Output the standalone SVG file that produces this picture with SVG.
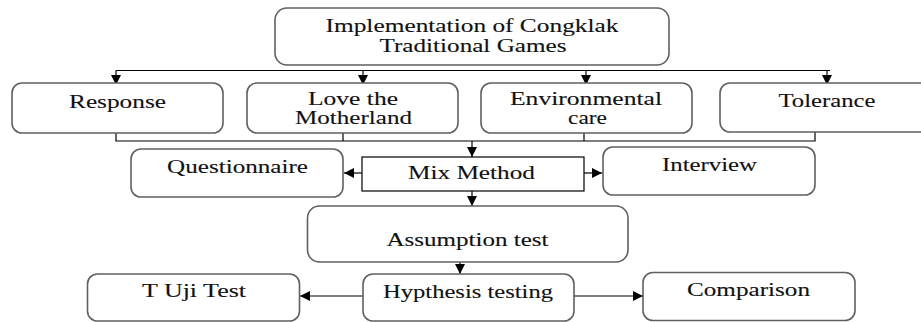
<svg xmlns="http://www.w3.org/2000/svg" width="921" height="322" viewBox="0 0 921 322">
<style>
.box{fill:#fff;stroke:#606060;stroke-width:1.6}
.sq{fill:#fff;stroke:#000;stroke-width:1.2}
.t{font-family:'Liberation Serif','Times New Roman','DejaVu Serif',serif;font-size:18px;fill:#111;stroke:#111;stroke-width:0.1;text-anchor:middle}
.c{fill:none;stroke:#000;stroke-width:1.2}
.a{fill:none;stroke:#000;stroke-width:1.2;marker-end:url(#ah)}
</style>
<defs>
<marker id="ah" viewBox="0 0 10 10" refX="10" refY="5" markerWidth="10" markerHeight="11" markerUnits="userSpaceOnUse" orient="auto">
<path d="M0,0 L10,5 L0,10 z" fill="#000"/>
</marker>
</defs>
<g id="connectors">
<path class="c" d="M116,70.5 H830"/>
<path class="a" d="M116,70.5 V85"/>
<path class="a" d="M363,70.5 V85"/>
<path class="a" d="M586,70.5 V85"/>
<path class="a" d="M827,70.5 V85"/>
<path class="c" d="M116,133 V141 H815 V132"/>
<path class="c" d="M343,133 V141"/>
<path class="c" d="M584,133 V141"/>
<path class="a" d="M472,141 V157"/>
<path class="a" d="M362,173 H344"/>
<path class="a" d="M584,173 H602"/>
<path class="a" d="M472,191 V206"/>
<path class="a" d="M460,262 V274"/>
<path class="a" d="M363,296 H300"/>
<path class="a" d="M574,296 H643"/>
</g>
<g id="n-implementation">
<rect class="box" x="275" y="8" width="394" height="57" rx="12"/>
<text class="t" x="472" y="32" textLength="293" lengthAdjust="spacingAndGlyphs">Implementation of Congklak</text>
<text class="t" x="473" y="52" textLength="187" lengthAdjust="spacingAndGlyphs">Traditional Games</text>
</g>
<g id="n-response">
<rect class="box" x="12" y="83" width="211" height="50" rx="10"/>
<text class="t" x="117.5" y="108" textLength="97" lengthAdjust="spacingAndGlyphs">Response</text>
</g>
<g id="n-love">
<rect class="box" x="247" y="83" width="211" height="50" rx="10"/>
<text class="t" x="353" y="105" textLength="90" lengthAdjust="spacingAndGlyphs">Love the</text>
<text class="t" x="353.5" y="124" textLength="117" lengthAdjust="spacingAndGlyphs">Motherland</text>
</g>
<g id="n-environmental">
<rect class="box" x="481" y="83" width="211" height="50" rx="10"/>
<text class="t" x="586" y="105" textLength="152" lengthAdjust="spacingAndGlyphs">Environmental</text>
<text class="t" x="587.5" y="124" textLength="39" lengthAdjust="spacingAndGlyphs">care</text>
</g>
<g id="n-tolerance">
<rect class="box" x="720" y="83" width="211" height="49" rx="10"/>
<text class="t" x="827" y="107" textLength="97" lengthAdjust="spacingAndGlyphs">Tolerance</text>
</g>
<g id="n-questionnaire">
<rect class="box" x="131" y="149" width="212" height="48" rx="10"/>
<text class="t" x="237.5" y="173" textLength="141" lengthAdjust="spacingAndGlyphs">Questionnaire</text>
</g>
<g id="n-mix">
<rect class="sq" x="362" y="157" width="222" height="34"/>
<text class="t" x="471.5" y="179" textLength="127" lengthAdjust="spacingAndGlyphs">Mix Method</text>
</g>
<g id="n-interview">
<rect class="box" x="603" y="147" width="212" height="48" rx="10"/>
<text class="t" x="709.5" y="171" textLength="95" lengthAdjust="spacingAndGlyphs">Interview</text>
</g>
<g id="n-assumption">
<rect class="box" x="307.5" y="206" width="320.5" height="56" rx="12"/>
<text class="t" x="467.5" y="246" textLength="162" lengthAdjust="spacingAndGlyphs">Assumption test</text>
</g>
<g id="n-hypothesis">
<rect class="box" x="363" y="274" width="211" height="47" rx="10"/>
<text class="t" x="468" y="298" textLength="170" lengthAdjust="spacingAndGlyphs">Hypthesis testing</text>
</g>
<g id="n-tuji">
<rect class="box" x="87.5" y="274" width="212" height="47" rx="10"/>
<text class="t" x="194" y="297" textLength="104" lengthAdjust="spacingAndGlyphs">T Uji Test</text>
</g>
<g id="n-comparison">
<rect class="box" x="643" y="272.5" width="212" height="48" rx="10"/>
<text class="t" x="748.5" y="296" textLength="123" lengthAdjust="spacingAndGlyphs">Comparison</text>
</g>
</svg>
